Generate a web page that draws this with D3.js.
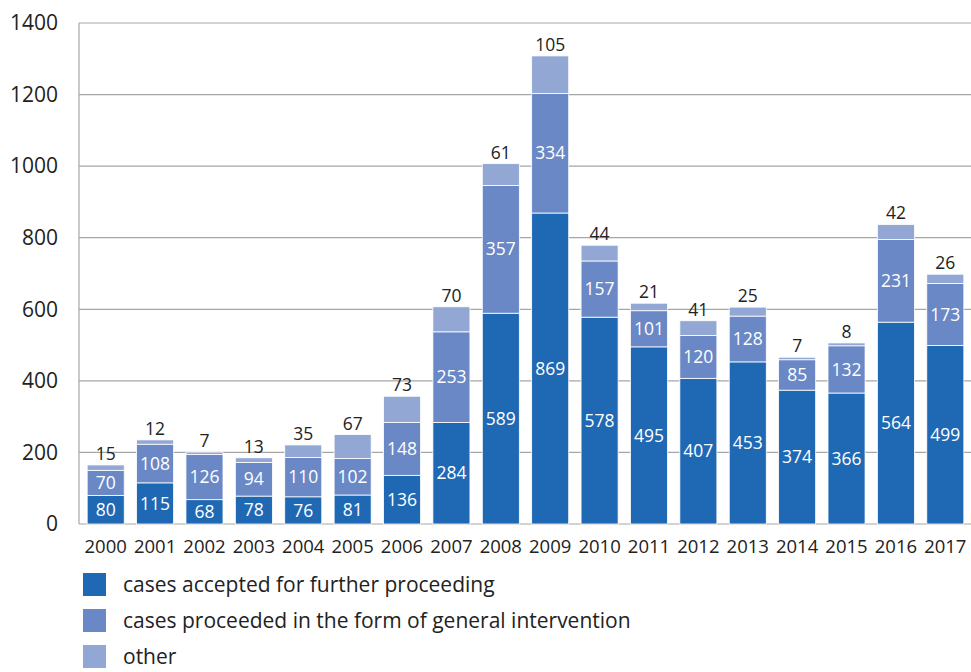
<!DOCTYPE html>
<html>
<head>
<meta charset="utf-8">
<script src="https://cdn.jsdelivr.net/npm/d3@7"></script>
<style>
  body { margin: 0; background: #fff; }
  text { font-family: "Open Sans", "Liberation Sans", sans-serif; }
</style>
</head>
<body>
<div id="chart"></div>
<script>
// data
var years = ["2000","2001","2002","2003","2004","2005","2006","2007","2008","2009","2010","2011","2012","2013","2014","2015","2016","2017"];
var accepted = [80,115,68,78,76,81,136,284,589,869,578,495,407,453,374,366,564,499];
var intervention = [70,108,126,94,110,102,148,253,357,334,157,101,120,128,85,132,231,173];
var other = [15,12,7,13,35,67,73,70,61,105,44,21,41,25,7,8,42,26];
var seriesNames = ["cases accepted for further proceeding", "cases proceeded in the form of general intervention", "other"];
var yTicks = [0,200,400,600,800,1000,1200,1400];

var colors = ["#1f69b4", "#6a88c6", "#93a7d5"];

var width = 971, height = 672;
var margin = {top: 23, right: 1, bottom: 148, left: 79};

var svg = d3.select("#chart")
  .append("svg")
    .attr("width", width)
    .attr("height", height);

var x = d3.scaleBand()
  .domain(years)
  .range([margin.left + 2, width - margin.right])
  .paddingInner(0.25)
  .paddingOuter(0.125);

var y = d3.scaleLinear()
  .domain([0, 1400])
  .range([height - margin.bottom, margin.top]);

// grid
svg.selectAll(".grid")
  .data(yTicks)
  .enter()
  .append("line")
    .attr("x1", margin.left)
    .attr("x2", width)
    .attr("y1", function(d){ return y(d); })
    .attr("y2", function(d){ return y(d); })
    .attr("stroke", "#a6a6a6")
    .attr("stroke-width", 1.2);

svg.append("line")
  .attr("x1", margin.left).attr("x2", margin.left)
  .attr("y1", y(1400)).attr("y2", y(0))
  .attr("stroke", "#a6a6a6")
  .attr("stroke-width", 1.2);

// y tick labels
svg.selectAll(".ylab")
  .data(yTicks)
  .enter()
  .append("text")
    .attr("x", 58)
    .attr("y", function(d){ return y(d); })
    .attr("dy", "0.35em")
    .attr("text-anchor", "end")
    .attr("font-size", 21)
    .attr("fill", "#222")
    .text(function(d){ return d; });

// stacked data
var rows = years.map(function(yr, i){
  return {year: yr, a: accepted[i], b: intervention[i], c: other[i]};
});
var stack = d3.stack().keys(["a","b","c"]);
var layers = stack(rows);

var g = svg.selectAll(".layer")
  .data(layers)
  .enter()
  .append("g")
    .attr("fill", function(d, i){ return colors[i]; });

g.selectAll("rect")
  .data(function(d){ return d; })
  .enter()
  .append("rect")
    .attr("x", function(d){ return x(d.data.year); })
    .attr("y", function(d){ return y(d[1]); })
    .attr("width", x.bandwidth())
    .attr("height", function(d){ return y(d[0]) - y(d[1]); })
    .attr("stroke", "#fff")
    .attr("stroke-width", 0.8);

// labels inside first two segments
[0,1].forEach(function(k){
  svg.selectAll(".lab" + k)
    .data(layers[k])
    .enter()
    .append("text")
      .attr("x", function(d){ return x(d.data.year) + x.bandwidth() / 2; })
      .attr("y", function(d){ return y((d[0] + d[1]) / 2); })
      .attr("dy", "0.35em")
      .attr("text-anchor", "middle")
      .attr("font-size", 17.5)
      .attr("fill", "#fff")
      .text(function(d){ return d[1] - d[0]; });
});

// "other" values above the bars
svg.selectAll(".labTop")
  .data(layers[2])
  .enter()
  .append("text")
    .attr("x", function(d){ return x(d.data.year) + x.bandwidth() / 2; })
    .attr("y", function(d){ return y(d[1]) - 5; })
    .attr("text-anchor", "middle")
    .attr("font-size", 17.5)
    .attr("fill", "#222")
    .text(function(d){ return d[1] - d[0]; });

// x labels
svg.selectAll(".xlab")
  .data(years)
  .enter()
  .append("text")
    .attr("x", function(d){ return x(d) + x.bandwidth() / 2; })
    .attr("y", 553)
    .attr("text-anchor", "middle")
    .attr("font-size", 18.5)
    .attr("fill", "#222")
    .text(function(d){ return d; });

// legend
var legend = svg.selectAll(".legend")
  .data(seriesNames)
  .enter()
  .append("g")
    .attr("transform", function(d, i){ return "translate(83," + (573 + i * 36) + ")"; });

legend.append("rect")
  .attr("width", 23)
  .attr("height", 23)
  .attr("fill", function(d, i){ return colors[i]; });

legend.append("text")
  .attr("x", 40)
  .attr("y", 11.5)
  .attr("dy", "0.35em")
  .attr("font-size", 21)
  .attr("fill", "#222")
  .text(function(d){ return d; });
</script>
</body>
</html>
